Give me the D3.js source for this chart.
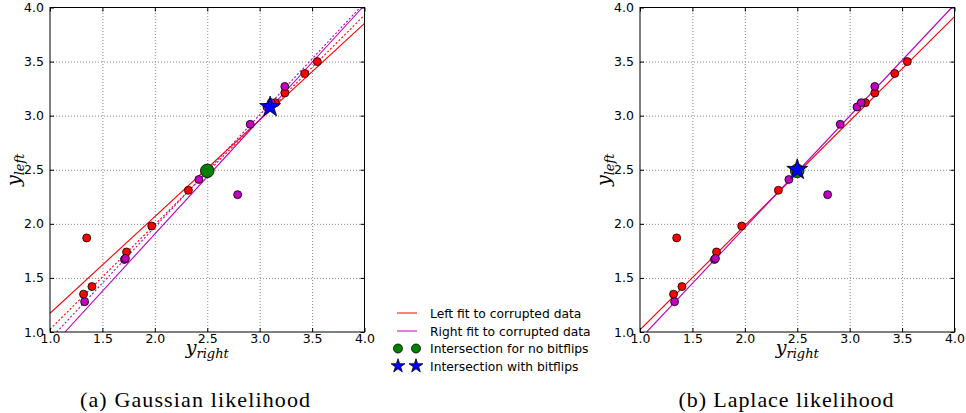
<!DOCTYPE html>
<html>
<head>
<meta charset="utf-8">
<script src="https://cdn.jsdelivr.net/npm/d3@7"></script>
<style>
  body { margin: 0; background: #fff; }
  svg { display: block; }
</style>
</head>
<body>
<script>
// valeurs : (y_right, y_left)
const ticks = [1.0, 1.5, 2.0, 2.5, 3.0, 3.5, 4.0]

// données de gauche (rouge)
const leftPts = [
  [1.35, 1.87], [1.32, 1.35], [1.40, 1.42], [1.73, 1.74], [1.97, 1.98],
  [2.32, 2.31], [3.15, 3.12], [3.24, 3.21], [3.43, 3.39], [3.55, 3.50]
]
// données de droite (magenta)
const rightPts = [
  [1.33, 1.28], [1.71, 1.67], [1.72, 1.68], [2.42, 2.41], [2.79, 2.27],
  [2.91, 2.92], [3.07, 3.08], [3.11, 3.12], [3.24, 3.27]
]

// droites ajustées [x1, y1, x2, y2]
const gaussLeftFit = [1.0, 1.173, 4.0, 3.854]
const gaussRightFit = [1.143, 1.0, 3.98, 4.0]
const gaussLeftClean = [1.0, 1.025, 4.0, 3.93]
const gaussRightClean = [1.064, 1.0, 3.958, 4.0]
const laplaceLeftFit = [1.0, 1.02, 4.0, 3.915]
const laplaceRightFit = [1.064, 1.0, 3.974, 4.0]

// intersections
const gaussNoFlip = [2.5, 2.49]
const gaussFlip = [3.1, 3.08]
const laplaceNoFlip = [2.5, 2.49]
const laplaceFlip = [2.5, 2.5]

const legendLabels = [
  "Left fit to corrupted data",
  "Right fit to corrupted data",
  "Intersection for no bitflips",
  "Intersection with bitflips"
]
const captions = ["(a) Gaussian likelihood", "(b) Laplace likelihood"]

const RED = "#ff0000", MAG = "#bf00bf", GREEN = "#008000", BLUE = "#0000ff"

const svg = d3.select("body").append("svg")
  .attr("width", 966).attr("height", 413)

const panels = [
  { left: 50, fits: [[gaussLeftClean, RED, true], [gaussRightClean, MAG, true], [gaussLeftFit, RED, false], [gaussRightFit, MAG, false]],
    noFlip: gaussNoFlip, flip: gaussFlip, caption: captions[0], capX: 195, capW: 230 },
  { left: 640, fits: [[laplaceLeftFit, RED, false], [laplaceRightFit, MAG, false]],
    noFlip: laplaceNoFlip, flip: laplaceFlip, caption: captions[1], capX: 786, capW: 215 }
]

const W = 314.5, topY = 7.5, H = 324.5

const star = d3.symbol().type(d3.symbolStar)

panels.forEach(p => {
  const x = d3.scaleLinear().domain([1, 4]).range([0, W])
  const y = d3.scaleLinear().domain([1, 4]).range([H, 0])

  const g = svg.append("g").attr("transform", `translate(${p.left},${topY})`)

  const clip = "clip" + p.left
  g.append("clipPath").attr("id", clip)
    .append("rect").attr("width", W).attr("height", H)

  // grille
  g.append("g")
    .attr("transform", `translate(0,${H})`)
    .call(d3.axisBottom(x).tickValues(ticks.slice(1, -1)).tickSize(-H).tickFormat(""))
    .call(a => a.select(".domain").remove())
    .selectAll("line").attr("stroke", "#888").attr("stroke-dasharray", "1,2")
  g.append("g")
    .call(d3.axisLeft(y).tickValues(ticks.slice(1, -1)).tickSize(-W).tickFormat(""))
    .call(a => a.select(".domain").remove())
    .selectAll("line").attr("stroke", "#888").attr("stroke-dasharray", "1,2")

  // droites
  const lines = g.append("g").attr("clip-path", `url(#${clip})`)
  p.fits.forEach(([f, col, dashed]) => {
    lines.append("line")
      .attr("x1", x(f[0])).attr("y1", y(f[1]))
      .attr("x2", x(f[2])).attr("y2", y(f[3]))
      .attr("stroke", col)
      .attr("stroke-width", 1.1)
      .attr("stroke-dasharray", dashed ? "2,2" : null)
  })

  // points
  g.append("g").selectAll("circle")
    .data(leftPts).join("circle")
    .attr("cx", d => x(d[0])).attr("cy", d => y(d[1]))
    .attr("r", 4).attr("fill", RED).attr("stroke", "#000").attr("stroke-width", 0.8)
  g.append("g").selectAll("circle")
    .data(rightPts).join("circle")
    .attr("cx", d => x(d[0])).attr("cy", d => y(d[1]))
    .attr("r", 4).attr("fill", MAG).attr("stroke", "#000").attr("stroke-width", 0.8)

  g.append("circle")
    .attr("cx", x(p.noFlip[0])).attr("cy", y(p.noFlip[1]))
    .attr("r", 6.8).attr("fill", GREEN).attr("stroke", "#000").attr("stroke-width", 0.8)
  g.append("path")
    .attr("d", star.size(135)())
    .attr("transform", `translate(${x(p.flip[0])},${y(p.flip[1])})`)
    .attr("fill", BLUE).attr("stroke", "#000").attr("stroke-width", 0.8)

  // cadre
  g.append("rect").attr("width", W).attr("height", H)
    .attr("fill", "none").attr("stroke", "#000").attr("stroke-width", 1)

  // graduations
  const xa = g.append("g").attr("transform", `translate(0,${H})`)
    .call(d3.axisBottom(x).tickValues(ticks).tickSize(-4).tickPadding(3).tickFormat(d3.format(".1f")))
  const ya = g.append("g")
    .call(d3.axisLeft(y).tickValues(ticks).tickSize(-4).tickPadding(6).tickFormat(d3.format(".1f")))
  g.append("g").call(d3.axisTop(x).tickValues(ticks).tickSize(-4).tickFormat(""))
  g.append("g").attr("transform", `translate(${W},0)`)
    .call(d3.axisRight(y).tickValues(ticks).tickSize(-4).tickFormat(""))
  g.selectAll(".domain").remove()
  g.selectAll(".tick line").filter(function () { return this.getAttribute("stroke") !== "#888" })
    .attr("stroke", "#000")
  ;[xa, ya].forEach(a => a.selectAll("text")
    .attr("font-family", "DejaVu Sans").attr("font-size", 12.5).attr("fill", "#000"))
  xa.selectAll("text").attr("dy", "0.62em")

  // titres des axes
  const xl = g.append("text")
    .attr("x", W / 2).attr("y", H + 22)
    .attr("text-anchor", "middle")
    .attr("font-family", "DejaVu Serif").attr("font-style", "italic").attr("font-size", 19)
  xl.append("tspan").text("y")
  xl.append("tspan").attr("font-size", 13).attr("dy", 4).text("right")

  const yl = g.append("text")
    .attr("transform", `translate(${-30},${H / 2}) rotate(-90)`)
    .attr("text-anchor", "middle")
    .attr("font-family", "DejaVu Serif").attr("font-style", "italic").attr("font-size", 19)
  yl.append("tspan").text("y")
  yl.append("tspan").attr("font-size", 13).attr("dy", 4).text("left")

  // légende du sous-graphe
  svg.append("text")
    .attr("x", p.capX).attr("y", 407)
    .attr("text-anchor", "middle")
    .attr("font-family", "Liberation Serif").attr("font-size", 22)
    .attr("textLength", p.capW).attr("lengthAdjust", "spacing")
    .text(p.caption)
})

// légende
const leg = svg.append("g")
const rows = [313, 331, 348.5, 366]
leg.append("line").attr("x1", 397).attr("x2", 417).attr("y1", rows[0]).attr("y2", rows[0]).attr("stroke", RED)
leg.append("line").attr("x1", 397).attr("x2", 417).attr("y1", rows[1]).attr("y2", rows[1]).attr("stroke", MAG)
;[398, 416].forEach(cx => {
  leg.append("circle").attr("cx", cx).attr("cy", rows[2]).attr("r", 4.5)
    .attr("fill", GREEN).attr("stroke", "#000").attr("stroke-width", 0.8)
  leg.append("path").attr("d", star.size(60)())
    .attr("transform", `translate(${cx},${rows[3]})`)
    .attr("fill", BLUE).attr("stroke", "#000").attr("stroke-width", 0.8)
})
leg.selectAll("text.lab").data(legendLabels).join("text")
  .attr("class", "lab")
  .attr("x", 430).attr("y", (d, i) => rows[i] + 4.5)
  .attr("font-family", "DejaVu Sans").attr("font-size", 12.3)
  .text(d => d)
</script>
</body>
</html>
